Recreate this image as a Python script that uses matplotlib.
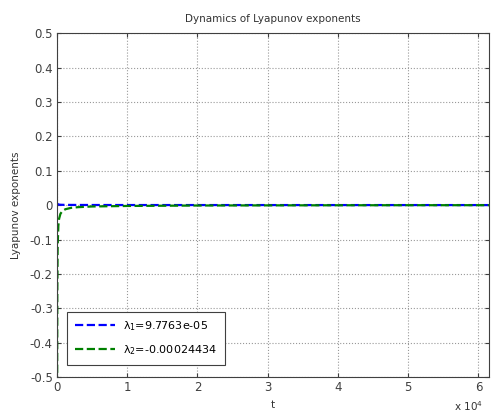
import numpy as np
import matplotlib
matplotlib.use('Agg')
import matplotlib.pyplot as plt

# values
t_pts = [0, 50, 100, 200, 300, 500, 800, 1200, 2000, 3000, 5000,
         10000, 20000, 30000, 40000, 50000, 61500]
lam1 = [0.006, 0.004, 0.003, 0.002, 0.0015, 0.001, 0.0008, 0.0006, 0.0005, 0.0004, 0.0003,
        0.0002, 0.00015, 0.00012, 0.0001, 0.0001, 0.0000978]
lam2 = [-0.95, -0.25, -0.12, -0.06, -0.04, -0.025, -0.017, -0.012, -0.008, -0.006, -0.004,
        -0.0025, -0.0012, -0.0008, -0.0005, -0.0003, -0.00024]
label1 = 'λ$_1$=9.7763e-05'
label2 = 'λ$_2$=-0.00024434'

plt.rcParams['font.family'] = ['DejaVu Sans']
plt.rcParams['mathtext.default'] = 'regular'
fig = plt.figure(figsize=(4.91, 4.19), dpi=100)
ax = fig.add_axes([0.116, 0.1, 0.88, 0.821])

ax.plot(t_pts, lam1, '--', color=(0, 0, 1), lw=1.6, label=label1)
ax.plot(t_pts, lam2, '--', color=(0, 0.5, 0), lw=1.6, label=label2)

ax.set_xlim(0, 61500)
ax.set_ylim(-0.5, 0.5)
ax.set_yticks(np.arange(-0.5, 0.51, 0.1))
ax.set_yticklabels(['-0.5', '-0.4', '-0.3', '-0.2', '-0.1', '0', '0.1', '0.2', '0.3', '0.4', '0.5'])
ax.set_xticks([0, 10000, 20000, 30000, 40000, 50000, 60000])
ax.set_xticklabels(['0', '1', '2', '3', '4', '5', '6'])
ax.tick_params(direction='in', labelsize=8.5, colors='#404040', length=3, top=True, right=True, pad=3)
ax.grid(True, linestyle=':', color='#999999', lw=0.8)
for s in ax.spines.values():
    s.set_color('#404040')

ax.set_title('Dynamics of Lyapunov exponents', fontsize=7.5, color='#333333', pad=8)
ax.set_xlabel('t', fontsize=7.5, color='#333333', labelpad=4)
ax.set_ylabel('Lyapunov exponents', fontsize=7.5, color='#333333', labelpad=6)
fig.text(0.925, 0.02, r'x 10$^4$', fontsize=7.5, color='#333333')

leg = ax.legend(loc='lower left', fontsize=8, fancybox=False, framealpha=1,
                edgecolor='#404040', handlelength=3.6, borderpad=0.7, labelspacing=0.9,
                bbox_to_anchor=(0.01, 0.02))
leg.get_frame().set_linewidth(0.8)

fig.savefig('out.png', dpi=100)
